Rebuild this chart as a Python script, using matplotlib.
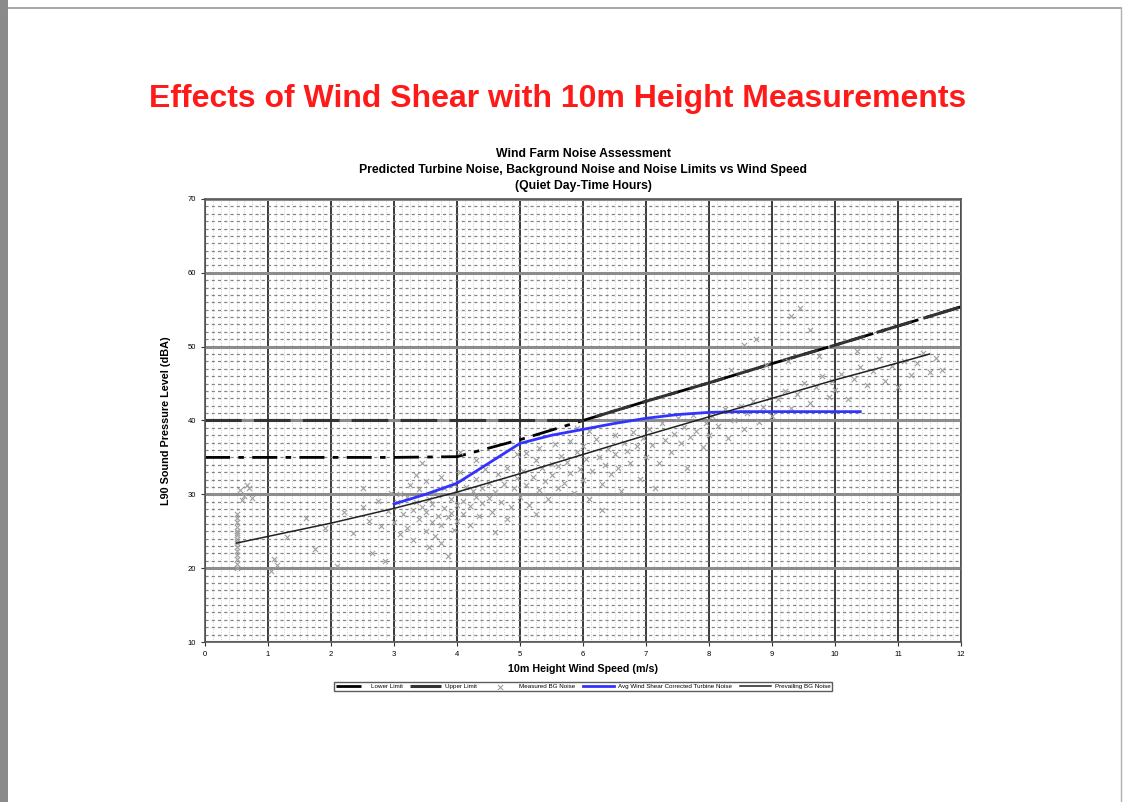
import matplotlib
matplotlib.use("Agg")
import matplotlib.pyplot as plt
from matplotlib.lines import Line2D
from matplotlib.patches import Rectangle
import numpy as np

plt.rcParams['font.family'] = ['Liberation Sans', 'DejaVu Sans']

# noise limits
limit_x = [0, 1, 2, 3, 4, 5, 6, 7, 8, 9, 10, 11, 12]
lower_limit = [35, 35, 35, 35, 35.1, 37.4, 40.0, 42.6, 45.1, 47.7, 50.2, 52.8, 55.4]
upper_limit = [40, 40, 40, 40, 40, 40, 40.0, 42.6, 45.1, 47.7, 50.2, 52.8, 55.4]

# prevailing background noise curve
prev_x = [0.5, 1, 2, 3, 4, 5, 6, 7, 8, 9, 10, 11, 11.5]
prev_y = [23.4, 24.3, 26.1, 28.1, 30.3, 32.8, 35.4, 38.0, 40.5, 43.0, 45.5, 47.8, 49.0]

# wind shear corrected turbine noise
turb_x = [3.0, 3.5, 4.0, 4.5, 5.0, 5.5, 6.0, 6.5, 7.0, 7.5, 8.0, 8.5, 9.0, 10.4]
turb_y = [28.7, 30.0, 31.5, 34.2, 36.9, 38.0, 38.8, 39.6, 40.3, 40.8, 41.1, 41.2, 41.2, 41.2]

# measured background noise (x = wind speed, y = L90)
bg_pts = [
    (0.5, 20.0), (0.5, 20.6), (0.5, 21.2), (0.5, 21.8), (0.5, 22.3), (0.5, 22.9), (0.5, 23.4),
    (0.5, 24.0), (0.5, 24.5), (0.5, 25.1), (0.5, 25.6), (0.5, 26.2), (0.5, 26.8), (0.5, 27.3),
    (0.5, 23.7), (0.5, 24.8),
    (0.55, 30.6), (0.62, 29.8), (0.7, 30.9), (0.58, 29.2), (0.75, 29.5), (0.66, 31.2),
    (1.05, 19.6), (1.15, 20.4), (1.1, 21.2), (1.3, 24.2), (1.6, 26.8), (1.75, 22.6), (1.9, 25.4),
    (2.1, 20.3), (2.2, 27.6), (2.35, 24.8), (2.5, 28.3), (2.6, 26.4), (2.65, 22.1), (2.75, 29.1),
    (2.8, 25.7), (2.9, 27.8), (2.95, 30.2), (2.85, 21.0), (2.5, 30.8),
    (3.0, 26.3), (3.05, 28.9), (3.1, 24.6), (3.1, 30.1), (3.15, 27.4), (3.2, 29.6), (3.2, 25.5),
    (3.25, 31.3), (3.3, 27.9), (3.3, 23.8), (3.35, 29.0), (3.4, 26.7), (3.4, 30.7), (3.45, 28.3),
    (3.5, 25.1), (3.5, 27.6), (3.5, 31.8), (3.55, 29.4), (3.6, 26.2), (3.6, 28.7), (3.65, 30.3),
    (3.65, 24.3), (3.7, 27.1), (3.7, 29.9), (3.75, 32.4), (3.75, 25.8), (3.8, 28.2), (3.8, 30.8),
    (3.85, 26.9), (3.85, 21.7), (3.9, 29.3), (3.9, 27.5), (3.95, 31.4), (3.95, 25.2), (4.0, 28.6),
    (4.0, 30.2), (4.0, 26.4), (4.05, 33.0), (4.1, 29.1), (4.1, 27.3), (4.15, 31.0), (4.2, 28.4),
    (4.2, 25.9), (4.25, 30.5), (4.3, 29.7), (4.3, 32.1), (4.35, 27.0), (4.4, 30.9), (4.4, 28.8),
    (4.45, 33.4), (4.5, 29.5), (4.5, 31.6), (3.35, 32.6), (3.55, 22.8), (3.45, 34.2), (4.05, 35.8),
    (3.75, 23.4), (4.3, 34.6),
    (4.55, 27.6), (4.6, 30.3), (4.65, 32.8), (4.7, 29.0), (4.75, 31.4), (4.8, 33.6), (4.85, 28.3),
    (4.9, 30.9), (4.95, 32.2), (4.95, 35.4), (4.6, 24.9), (4.8, 26.7),
    (5.0, 29.6), (5.05, 33.1), (5.1, 31.2), (5.1, 35.6), (5.15, 28.5), (5.2, 32.4), (5.25, 34.7),
    (5.3, 30.6), (5.3, 36.3), (5.35, 33.5), (5.4, 31.8), (5.45, 29.3), (5.5, 34.1), (5.5, 32.6),
    (5.55, 36.8), (5.6, 30.8), (5.6, 33.9), (5.65, 35.2), (5.7, 31.5), (5.75, 34.4), (5.8, 32.9),
    (5.8, 37.2), (5.85, 30.2), (5.9, 35.8), (5.95, 33.4), (6.0, 31.9), (6.0, 36.6), (6.05, 34.8),
    (6.1, 29.4), (6.15, 33.2), (6.2, 37.5), (6.25, 35.1), (6.3, 31.4), (6.35, 34.0), (6.4, 36.2),
    (6.45, 32.7), (6.5, 38.1), (6.5, 35.5), (6.55, 33.6), (6.6, 30.5), (6.65, 37.0), (6.7, 35.9),
    (6.75, 34.3), (6.8, 38.4), (6.85, 36.5), (6.9, 32.1), (6.95, 37.6), (5.25, 27.3), (6.3, 27.9),
    (5.9, 39.0), (6.1, 38.6),
    (7.0, 35.0), (7.05, 38.9), (7.1, 36.7), (7.2, 34.2), (7.25, 39.6), (7.3, 37.4), (7.4, 35.8),
    (7.45, 38.2), (7.5, 40.3), (7.55, 36.9), (7.6, 39.1), (7.7, 37.8), (7.75, 40.8), (7.8, 38.6),
    (7.9, 36.4), (7.95, 39.7), (7.15, 30.8), (7.65, 33.5),
    (8.0, 38.0), (8.05, 40.6), (8.15, 39.2), (8.25, 41.5), (8.3, 37.6), (8.4, 40.1), (8.5, 42.0),
    (8.55, 38.9), (8.6, 41.0), (8.7, 42.6), (8.8, 39.8), (8.85, 41.8), (8.95, 43.1), (8.55, 50.2),
    (8.75, 51.0), (9.3, 54.1), (9.45, 55.2), (9.6, 52.3), (8.35, 46.8), (8.9, 47.5),
    (9.0, 40.6), (9.1, 42.9), (9.2, 44.0), (9.3, 41.7), (9.4, 43.6), (9.5, 45.1), (9.6, 42.4),
    (9.7, 44.6), (9.8, 46.0), (9.9, 43.2), (9.95, 45.4), (9.25, 48.1), (9.75, 48.7),
    (10.0, 44.1), (10.1, 46.3), (10.2, 42.9), (10.3, 45.6), (10.4, 47.2), (10.5, 44.8), (10.6, 46.7),
    (10.7, 48.3), (10.8, 45.3), (10.9, 47.4), (11.0, 44.5), (11.1, 48.0), (11.2, 46.2), (11.3, 47.8),
    (11.4, 49.1), (11.5, 46.5), (11.6, 48.4), (11.7, 46.9), (10.35, 49.4),
]
bg_x = [p[0] for p in bg_pts]
bg_y = [p[1] for p in bg_pts]

fig = plt.figure(figsize=(11.29, 8.02), dpi=100)

# page frame like the pdf viewer
fig.add_artist(Rectangle((0, 0), 0.007, 1, transform=fig.transFigure,
                         facecolor='#8a8a8a', edgecolor='none'))
fig.add_artist(Line2D([0.007, 0.993], [0.990, 0.990], transform=fig.transFigure,
                      color='#9a9a9a', lw=1.2))
fig.add_artist(Line2D([0.993, 0.993], [0, 0.990], transform=fig.transFigure,
                      color='#b0b0b0', lw=1.0))

fig.text(0.494, 0.876, "Effects of Wind Shear with 10m Height Measurements",
         color='#ff1a1a', fontsize=23, fontweight='bold', ha='center', va='center')

ax = fig.add_axes([0.1816, 0.1995, 0.6696, 0.5524])

ax.set_xlim(0, 12)
ax.set_ylim(10, 70)
ax.set_xticks(range(0, 13))
ax.set_yticks(range(10, 71, 10))
ax.set_xticks(np.arange(0, 12.01, 0.125), minor=True)
ax.set_yticks(range(10, 71, 1), minor=True)
ax.tick_params(axis='both', which='major', labelsize=5.5, length=3, color='#333333')
ax.tick_params(axis='both', which='minor', length=0)

ax.grid(which='minor', axis='y', color='#858585', lw=0.9, linestyle=(0, (2.5, 2.5)))
ax.grid(which='minor', axis='x', color='#cccccc', lw=0.7, linestyle=(0, (1, 1.5)))
ax.grid(which='major', axis='x', color='#3a3a3a', lw=1.4)
ax.grid(which='major', axis='y', color='#8c8c8c', lw=2.2)
ax.set_axisbelow(True)
for sp in ax.spines.values():
    sp.set_color('#555555')
    sp.set_linewidth(1.2)

ax.plot(limit_x, lower_limit, color='black', lw=2.0,
        dashes=(9, 3, 2, 3), label='Lower Limit')
ax.plot(limit_x, upper_limit, color='#333333', lw=2.2,
        dashes=(12, 4), label='Upper Limit')
ax.scatter(bg_x, bg_y, marker='x', s=14, linewidths=0.8, color='#a0a0a0',
           label='Measured BG Noise', zorder=3)
ax.plot(turb_x, turb_y, color='#3333ff', lw=2.0,
        label='Avg Wind Shear Corrected Turbine Noise', zorder=4)
ax.plot(prev_x, prev_y, color='#222222', lw=1.1,
        label='Prevailing BG Noise', zorder=4)

ax.set_title("Wind Farm Noise Assessment\n"
             "Predicted Turbine Noise, Background Noise and Noise Limits vs Wind Speed\n"
             "(Quiet Day-Time Hours)", fontsize=8.8, fontweight='bold', pad=7, linespacing=1.45)
ax.set_xlabel("10m Height Wind Speed (m/s)", fontsize=7.7, fontweight='bold', labelpad=4)
ax.set_ylabel("L90 Sound Pressure Level (dBA)", fontsize=7.8, fontweight='bold', labelpad=12)

leg = ax.legend(loc='upper center', bbox_to_anchor=(0.5, -0.083), ncol=5, fontsize=4.5,
                frameon=True, fancybox=False, edgecolor='#333333', handlelength=5,
                columnspacing=1.2, borderpad=0.3, handletextpad=0.6)
leg.get_frame().set_linewidth(1.0)

fig.savefig("out.png", dpi=100)
